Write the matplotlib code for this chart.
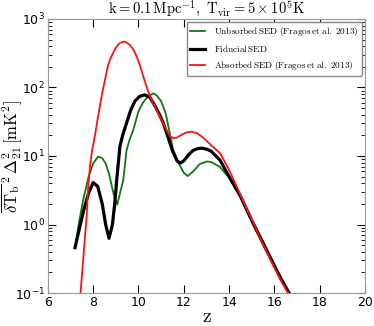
import numpy as np
import matplotlib
matplotlib.use('Agg')
import matplotlib.pyplot as plt

plt.rcParams['mathtext.fontset'] = 'cm'

# values (z, dTb^2 Delta^2 in mK^2)
z_fid = [7.2, 7.4, 7.6, 7.8, 8.0, 8.2, 8.4, 8.55, 8.7, 8.85, 8.95, 9.04, 9.18, 9.3, 9.47,
         9.65, 9.84, 10.05, 10.28, 10.5, 10.7, 10.9, 11.1, 11.3, 11.5, 11.7, 11.85, 12.0,
         12.2, 12.4, 12.6, 12.8, 13.0, 13.2, 13.6, 14.0, 14.5, 15.0, 15.5, 16.0, 16.3, 16.65]
p_fid = [0.46, 0.9, 1.7, 2.9, 4.1, 3.6, 2.0, 1.0, 0.63, 1.0, 2.0, 4.5, 13.8, 20, 30,
         46, 63, 74, 78, 72, 56, 42, 30, 19, 12, 8.5, 7.9, 8.5,
         10.3, 12, 12.8, 13, 12.6, 11.8, 8.7, 5.0, 2.6, 1.15, 0.54, 0.25, 0.16, 0.1]

z_uns = [7.2, 7.4, 7.56, 7.8, 8.0, 8.22, 8.4, 8.55, 8.7, 8.9, 9.06, 9.2, 9.33, 9.47, 9.6,
         9.77, 10.0, 10.2, 10.4, 10.65, 10.8, 11.0, 11.2, 11.4, 11.53, 11.7, 11.85, 12.0,
         12.17, 12.4, 12.7, 13.0, 13.2, 13.6, 14.0, 14.5, 15.0, 15.5, 16.0, 16.3, 16.65]
p_uns = [0.47, 1.2, 2.3, 5.0, 7.8, 9.8, 9.3, 7.8, 5.5, 2.8, 1.95, 3.0, 4.5, 12, 17,
         24, 45, 60, 73, 82, 77, 63, 42, 20, 12.3, 9.0, 7.0, 5.7,
         5.1, 5.9, 7.6, 8.3, 8.2, 6.9, 4.8, 2.5, 1.1, 0.5, 0.24, 0.155, 0.1]

z_abs = [7.44, 7.55, 7.65, 7.71, 7.78, 7.86, 7.95, 8.08, 8.2, 8.37, 8.5, 8.66, 8.8, 9.0,
         9.18, 9.4, 9.62, 9.8, 9.92, 10.06, 10.21, 10.36, 10.51, 10.65, 10.8, 10.95, 11.09,
         11.25, 11.39, 11.53, 11.7, 11.9, 12.12, 12.35, 12.6, 12.85, 13.1, 13.6, 14.0, 14.5,
         15.0, 15.4, 15.8, 16.25, 16.6]
p_abs = [0.1, 0.28, 0.76, 1.3, 3.5, 7.1, 12, 20, 35, 74, 120, 214, 282, 380,
         447, 468, 417, 347, 282, 214, 145, 102, 74, 59, 47, 37, 30,
         23.4, 19.5, 18.2, 18.6, 20.4, 22.1, 22.6, 21.4, 18.6, 15.5, 11, 6.3, 2.7,
         1.2, 0.6, 0.32, 0.16, 0.1]

fig = plt.figure(figsize=(3.74, 3.26), dpi=100)
ax = fig.add_axes([0.128, 0.101, 0.848, 0.841])

ax.plot(z_uns, p_uns, color='#117711', lw=1.3,
        label=r'$\mathrm{Unbsorbed\,SED\ (Fragos\,et\ al.\ 2013)}$')
ax.plot(z_fid, p_fid, color='k', lw=2.3, label=r'$\mathrm{Fiducial\,SED}$')
ax.plot(z_abs, p_abs, color='#ff1111', lw=1.3,
        label=r'$\mathrm{Absorbed\,SED\ (Fragos\,et\ al.\ 2013)}$')

ax.set_yscale('log')
ax.set_xlim(6, 20)
ax.set_ylim(0.1, 1000)
ax.set_xticks([6, 8, 10, 12, 14, 16, 18, 20])
ax.tick_params(which='both', direction='in', top=True, right=True, labelsize=9, pad=2)
ax.tick_params(which='major', length=6)
ax.tick_params(which='minor', length=3)
for s in ax.spines.values():
    s.set_color('#999999')

ax.set_xlabel(r'$\mathrm{z}$', fontsize=14, labelpad=-1)
ax.set_ylabel(r'$\overline{\delta\mathrm{T_b}}^{\,2}\,\Delta_{21}^2\,[\mathrm{mK}^2]$',
              fontsize=12)
ax.yaxis.set_label_coords(-0.075, 0.5)
ax.set_title(r'$\mathrm{k=0.1\,Mpc^{-1},\ T_{vir}=5\times10^5K}$', fontsize=10.5, pad=3)

ax.legend(loc='upper right', fontsize=6.6, handlelength=1.6, handletextpad=1.0,
          borderaxespad=0.3, labelspacing=0.55, fancybox=True,
          edgecolor='#888888', framealpha=1)

fig.savefig('out.png', dpi=100)
